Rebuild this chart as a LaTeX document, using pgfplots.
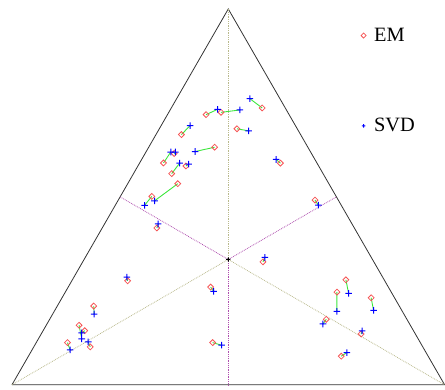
\documentclass[border=0pt]{standalone}
\usepackage{fontspec}
\setmainfont{Liberation Serif}
\usepackage{pgfplots}
\usepackage{pgfplotstable}
\pgfplotsset{compat=1.18}
\definecolor{emred}{RGB}{245,85,85}
\definecolor{svdblue}{RGB}{0,0,255}
\definecolor{segg}{RGB}{60,230,60}
\definecolor{tanl}{RGB}{185,185,140}
\definecolor{magl}{RGB}{175,80,175}
\pgfdeclareplotmark{fplus}{%
  \pgfpathrectangle{\pgfpoint{-\pgfplotmarksize}{-0.5pt}}{\pgfpoint{2\pgfplotmarksize}{1pt}}%
  \pgfpathrectangle{\pgfpoint{-0.5pt}{-\pgfplotmarksize}}{\pgfpoint{1pt}{2\pgfplotmarksize}}%
  \pgfusepathqfill}
\pgfplotstableread{
ex ey sx sy
263.0 277.7 250.7 287.0
206.7 271.0 218.3 276.3
221.7 273.3 240.7 275.7
182.0 251.0 190.7 260.0
237.7 256.8 249.5 254.7
215.3 238.3 195.7 234.0
164.0 222.5 171.3 233.5
174.7 232.0 176.0 233.5
172.2 211.8 180.2 222.3
186.5 219.5 189.3 221.3
281.3 222.3 277.0 226.0
178.3 201.7 155.0 184.5
152.3 189.0 145.0 180.0
316.0 185.3 319.3 180.3
157.3 157.3 158.7 161.3
263.8 123.3 265.7 127.7
128.0 104.3 127.2 108.0
211.3 98.0 214.3 93.7
94.0 79.0 94.5 71.0
79.3 59.7 82.0 46.0
85.0 54.3 82.0 52.0
90.5 38.0 88.5 43.0
67.7 42.3 70.3 35.0
213.3 42.3 222.3 39.7
347.0 105.3 349.7 91.7
338.0 93.0 338.0 73.7
372.3 87.3 374.7 74.7
327.3 65.7 324.0 61.0
362.3 51.0 363.3 54.0
342.3 28.7 348.0 32.3
}\pairs
% the same pairs as line segments (EM end, SVD end), separated by nan
\pgfplotstableread{
x y
263.0 277.7
250.7 287.0
nan nan
206.7 271.0
218.3 276.3
nan nan
221.7 273.3
240.7 275.7
nan nan
182.0 251.0
190.7 260.0
nan nan
237.7 256.8
249.5 254.7
nan nan
215.3 238.3
195.7 234.0
nan nan
164.0 222.5
171.3 233.5
nan nan
174.7 232.0
176.0 233.5
nan nan
172.2 211.8
180.2 222.3
nan nan
186.5 219.5
189.3 221.3
nan nan
281.3 222.3
277.0 226.0
nan nan
178.3 201.7
155.0 184.5
nan nan
152.3 189.0
145.0 180.0
nan nan
316.0 185.3
319.3 180.3
nan nan
157.3 157.3
158.7 161.3
nan nan
263.8 123.3
265.7 127.7
nan nan
128.0 104.3
127.2 108.0
nan nan
211.3 98.0
214.3 93.7
nan nan
94.0 79.0
94.5 71.0
nan nan
79.3 59.7
82.0 46.0
nan nan
85.0 54.3
82.0 52.0
nan nan
90.5 38.0
88.5 43.0
nan nan
67.7 42.3
70.3 35.0
nan nan
213.3 42.3
222.3 39.7
nan nan
347.0 105.3
349.7 91.7
nan nan
338.0 93.0
338.0 73.7
nan nan
372.3 87.3
374.7 74.7
nan nan
327.3 65.7
324.0 61.0
nan nan
362.3 51.0
363.3 54.0
nan nan
342.3 28.7
348.0 32.3
}\segs
\begin{document}
\begin{tikzpicture}
\begin{axis}[
  scale only axis, width=445bp, height=391bp,
  xmin=0, xmax=445, ymin=-5, ymax=386,
  axis lines=none, clip=false,
  legend style={draw=none, fill=none, at={(axis cs:362,360)}, anchor=north west,
    row sep=72pt, column sep=5pt, font=\fontsize{20.5}{22}\selectfont, inner sep=0pt,
    nodes={inner xsep=3pt, inner ysep=2pt}},
  legend cell align=left,
  legend image code/.code={\draw[mark repeat=2,mark phase=2,#1,mark size=1.8pt] plot coordinates {(0cm,0cm)(0.2cm,0cm)(0.4cm,0cm)};},
]
\path (rel axis cs:0,0) rectangle (rel axis cs:1,1);
% triangle
\addplot[black!80, line width=0.8pt, forget plot] coordinates {(12,0) (446,0) (229,377) (12,0)};
% guide lines from centre to vertices
\addplot[tanl, densely dotted, line width=0.8pt, forget plot] coordinates {(12,0) (229,125.7) (446,0)};
\addplot[tanl, densely dotted, line width=0.8pt, forget plot] coordinates {(229,125.7) (229,377)};
% guide lines from centre to edge midpoints
\addplot[magl, densely dotted, line width=0.8pt, forget plot] coordinates {(120.5,188.5) (229,125.7) (337.5,188.5)};
\addplot[magl, densely dotted, line width=0.8pt, forget plot] coordinates {(229,125.7) (229,0)};
\addplot[black, only marks, mark=fplus, mark size=2.2pt, mark options={fill=black}, forget plot] coordinates {(229,125.7)};
% segments
\addplot[segg, line width=0.9pt, no marks, unbounded coords=jump, forget plot] table[x=x, y=y] {\segs};
\addplot[emred, only marks, mark=square, mark size=2.1pt, mark options={rotate=45, line width=0.8pt}] table[x=ex, y=ey] {\pairs};
\addlegendentry{EM}
\addplot[color=svdblue, only marks, mark=fplus, mark size=3.3pt, mark options={fill=svdblue, draw=none}] table[x=sx, y=sy] {\pairs};
\addlegendentry{SVD}
\end{axis}
\end{tikzpicture}
\end{document}
